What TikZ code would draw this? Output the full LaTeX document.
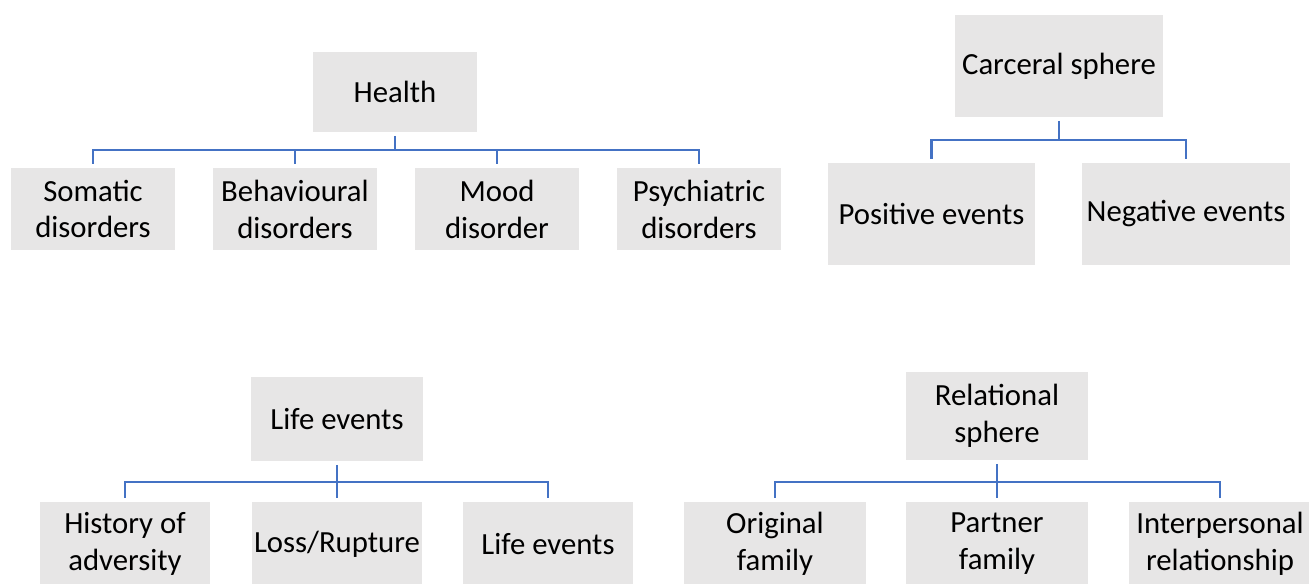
\documentclass[tikz,border=0pt]{standalone}
\usepackage{fontspec}
\setmainfont{Carlito}
\usetikzlibrary{positioning,calc}
\definecolor{boxgray}{HTML}{E7E6E6}
\definecolor{linkblue}{HTML}{4472C4}

\begin{document}
\begin{tikzpicture}[x=0.02cm, y=-0.02cm]
\tikzset{basicbox/.style={fill=boxgray, draw=none, align=center, text=black, inner sep=0pt, outer sep=0.08cm, font=\fontsize{17.5}{21}\selectfont}, kidbox/.style={basicbox, minimum width=3.3cm, minimum height=1.64cm}, bigbox/.style={basicbox, minimum width=4.16cm, minimum height=2.04cm}, lowbox/.style={basicbox, minimum height=1.68cm}, link/.style={draw=linkblue, line width=1.5pt}}
\useasboundingbox (0,0) rectangle (1309,584);
\clip (0,0) rectangle (1309,584);
% health
\node[basicbox, minimum width=3.28cm, minimum height=1.6cm] (health) at (395,92) {Health};
\node[kidbox] (somatic) at (93,209) {Somatic\\disorders};
\node[kidbox] (behav) at (295,209) {Behavioural\\disorders};
\node[kidbox] (mood) at (497,209) {Mood\\disorder};
\node[kidbox] (psych) at (699,209) {Psychiatric\\disorders};
\coordinate (healthbus) at (395,150);
\draw[link] (health.south) -- (healthbus);
\foreach \kid in {somatic, behav, mood, psych}
  \draw[link] (healthbus) -| (\kid.north);
% carceral sphere
\node[bigbox] (carceral) at (1059,66) {Carceral sphere};
\node[bigbox] (positive) at (931.5,214) {Positive events};
\node[bigbox] (negative) at (1186,214) {Negative events};
\coordinate (carcbus) at (1059,140);
\draw[link] (carceral.south) -- (carcbus);
\draw[link] (carcbus) -| (positive.north);
\draw[link] (carcbus) -| (negative.north);
% life events
\node[lowbox, minimum width=3.44cm] (life) at (337,419) {Life events};
\node[lowbox, minimum width=3.4cm] (history) at (125,544) {History of\\adversity};
\node[lowbox, minimum width=3.4cm] (loss) at (337,544) {Loss/Rupture};
\node[lowbox, minimum width=3.4cm] (lifekid) at (548,544) {Life events};
\coordinate (lifebus) at (337,482);
\draw[link] (life.south) -- (loss.north);
\draw[link] (lifebus) -| (history.north);
\draw[link] (lifebus) -| (lifekid.north);
% relational sphere
\node[basicbox, minimum width=3.64cm, minimum height=1.76cm] (relational) at (997,416) {Relational\\sphere};
\node[lowbox, minimum width=3.64cm] (original) at (775,544) {Original\\family};
\node[lowbox, minimum width=3.64cm] (partner) at (997,544) {Partner\\family};
\node[lowbox, minimum width=3.64cm] (interp) at (1220,544) {Interpersonal\\relationship};
\coordinate (relbus) at (997,482);
\draw[link] (relational.south) -- (partner.north);
\draw[link] (relbus) -| (original.north);
\draw[link] (relbus) -| (interp.north);
\end{tikzpicture}
\end{document}
